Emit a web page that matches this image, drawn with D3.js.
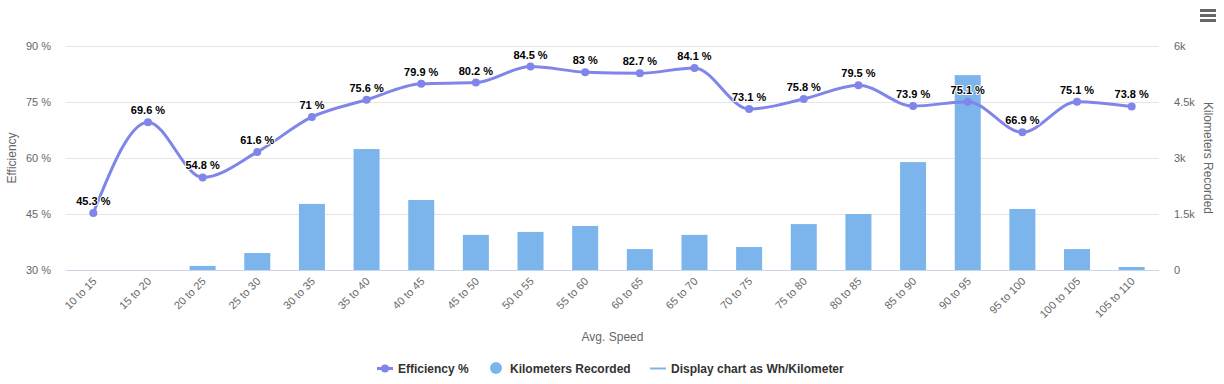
<!DOCTYPE html>
<html>
<head>
<meta charset="utf-8">
<script src="https://cdn.jsdelivr.net/npm/d3@7"></script>
<style>
  body { margin: 0; background: #fff; }
  svg { font-family: "Liberation Sans", Arial, sans-serif; display: block; }
</style>
</head>
<body>
<div id="chart"></div>
<script>
// speed buckets
var categories = ['10 to 15', '15 to 20', '20 to 25', '25 to 30', '30 to 35', '35 to 40', '40 to 45',
    '45 to 50', '50 to 55', '55 to 60', '60 to 65', '65 to 70', '70 to 75', '75 to 80', '80 to 85',
    '85 to 90', '90 to 95', '95 to 100', '100 to 105', '105 to 110'];

// efficiency in percent (line)
var efficiency = [45.3, 69.6, 54.8, 61.6, 71, 75.6, 79.9, 80.2, 84.5, 83, 82.7, 84.1, 73.1, 75.8,
    79.5, 73.9, 75.1, 66.9, 75.1, 73.8];

// kilometers recorded (bars)
var kilometers = [0, 0, 110, 455, 1770, 3240, 1875, 940, 1020, 1180, 560, 940, 615, 1230, 1500,
    2890, 5220, 1635, 560, 80];

var leftTicks = [30, 45, 60, 75, 90];
var rightTicks = [0, 1500, 3000, 4500, 6000];

var width = 1224, height = 384;
var margin = {left: 66, right: 65, top: 46, bottom: 114};
var plotW = width - margin.left - margin.right;
var plotH = height - margin.top - margin.bottom;

var svg = d3.select('#chart').append('svg').attr('width', width).attr('height', height);

var x = d3.scaleBand().domain(categories).range([margin.left, margin.left + plotW]);
var yL = d3.scaleLinear().domain([30, 90]).range([margin.top + plotH, margin.top]);
var yR = d3.scaleLinear().domain([0, 6000]).range([margin.top + plotH, margin.top]);

// grid lines
svg.append('g').selectAll('line').data(leftTicks).enter().append('line')
    .attr('x1', margin.left).attr('x2', margin.left + plotW)
    .attr('y1', function(d) {return yL(d) + 0.5;}).attr('y2', function(d) {return yL(d) + 0.5;})
    .attr('stroke', '#e6e6e6').attr('stroke-width', 1);

// left axis labels
svg.append('g').selectAll('text').data(leftTicks).enter().append('text')
    .attr('x', margin.left - 15).attr('y', function(d) {return yL(d) + 4;})
    .attr('text-anchor', 'end').attr('font-size', 11).attr('fill', '#666')
    .text(function(d) {return d + ' %';});

// right axis labels
var fmtK = function(d) {return d === 0 ? '0' : (d / 1000) + 'k';};
svg.append('g').selectAll('text').data(rightTicks).enter().append('text')
    .attr('x', margin.left + plotW + 15).attr('y', function(d) {return yR(d) + 4;})
    .attr('text-anchor', 'start').attr('font-size', 11).attr('fill', '#666')
    .text(fmtK);

// axis titles
svg.append('text').attr('transform', 'translate(16,' + (margin.top + plotH / 2) + ') rotate(-90)')
    .attr('text-anchor', 'middle').attr('font-size', 12).attr('fill', '#666').text('Efficiency');
svg.append('text').attr('transform', 'translate(1204,' + (margin.top + plotH / 2) + ') rotate(90)')
    .attr('text-anchor', 'middle').attr('font-size', 12).attr('fill', '#666').text('Kilometers Recorded');

// bars
var barW = 26;
svg.append('g').selectAll('rect').data(kilometers).enter().append('rect')
    .attr('x', function(d, i) {return x(categories[i]) + x.bandwidth() / 2 - barW / 2;})
    .attr('y', function(d) {return yR(d);})
    .attr('width', barW)
    .attr('height', function(d) {return yR(0) - yR(d);})
    .attr('fill', '#7cb5ec');

// x axis line
svg.append('line').attr('x1', margin.left).attr('x2', margin.left + plotW)
    .attr('y1', yL(30) + 0.5).attr('y2', yL(30) + 0.5)
    .attr('stroke', '#ccd6eb').attr('stroke-width', 1);

// x labels
svg.append('g').selectAll('text').data(categories).enter().append('text')
    .attr('transform', function(d) {
        return 'translate(' + (x(d) + x.bandwidth() / 2 + 4) + ',' + (yL(30) + 12) + ') rotate(-45)';
    })
    .attr('text-anchor', 'end').attr('font-size', 11).attr('fill', '#666')
    .text(function(d) {return d;});

svg.append('text').attr('x', margin.left + plotW / 2).attr('y', 341)
    .attr('text-anchor', 'middle').attr('font-size', 12).attr('fill', '#666').text('Avg. Speed');

// efficiency line
var cx = function(d, i) {return x(categories[i]) + x.bandwidth() / 2;};
var line = d3.line().x(cx).y(function(d) {return yL(d);}).curve(d3.curveMonotoneX);
svg.append('path').datum(efficiency).attr('d', line)
    .attr('fill', 'none').attr('stroke', '#8085e9').attr('stroke-width', 3)
    .attr('stroke-linejoin', 'round').attr('stroke-linecap', 'round');

svg.append('g').selectAll('circle').data(efficiency).enter().append('circle')
    .attr('cx', cx).attr('cy', function(d) {return yL(d);}).attr('r', 4)
    .attr('fill', '#8085e9');

// data labels
var labels = svg.append('g').selectAll('text').data(efficiency).enter().append('text')
    .attr('x', cx).attr('y', function(d) {return yL(d) - 8;})
    .attr('text-anchor', 'middle').attr('font-size', 11).attr('font-weight', 'bold')
    .attr('fill', '#000').attr('stroke', '#fff').attr('stroke-width', 2)
    .attr('stroke-linejoin', 'round').attr('paint-order', 'stroke')
    .text(function(d) {return d + ' %';});

// legend
var lg = svg.append('g').attr('font-size', 12).attr('font-weight', 'bold').attr('fill', '#333');
lg.append('line').attr('x1', 377).attr('x2', 393).attr('y1', 368.5).attr('y2', 368.5)
    .attr('stroke', '#8085e9').attr('stroke-width', 3);
lg.append('circle').attr('cx', 385).attr('cy', 368.5).attr('r', 4).attr('fill', '#8085e9');
lg.append('text').attr('x', 398).attr('y', 373).text('Efficiency %');
lg.append('circle').attr('cx', 496).attr('cy', 368).attr('r', 6).attr('fill', '#7cb5ec');
lg.append('text').attr('x', 510).attr('y', 373).text('Kilometers Recorded');
lg.append('line').attr('x1', 650).attr('x2', 666).attr('y1', 368.5).attr('y2', 368.5)
    .attr('stroke', '#7cb5ec').attr('stroke-width', 2);
lg.append('text').attr('x', 671).attr('y', 373).text('Display chart as Wh/Kilometer');

// menu icon
svg.append('g').selectAll('line').data([10, 15, 20]).enter().append('line')
    .attr('x1', 1200).attr('x2', 1216).attr('y1', function(d) {return d + 0.5;})
    .attr('y2', function(d) {return d + 0.5;})
    .attr('stroke', '#666').attr('stroke-width', 3);
</script>
</body>
</html>
